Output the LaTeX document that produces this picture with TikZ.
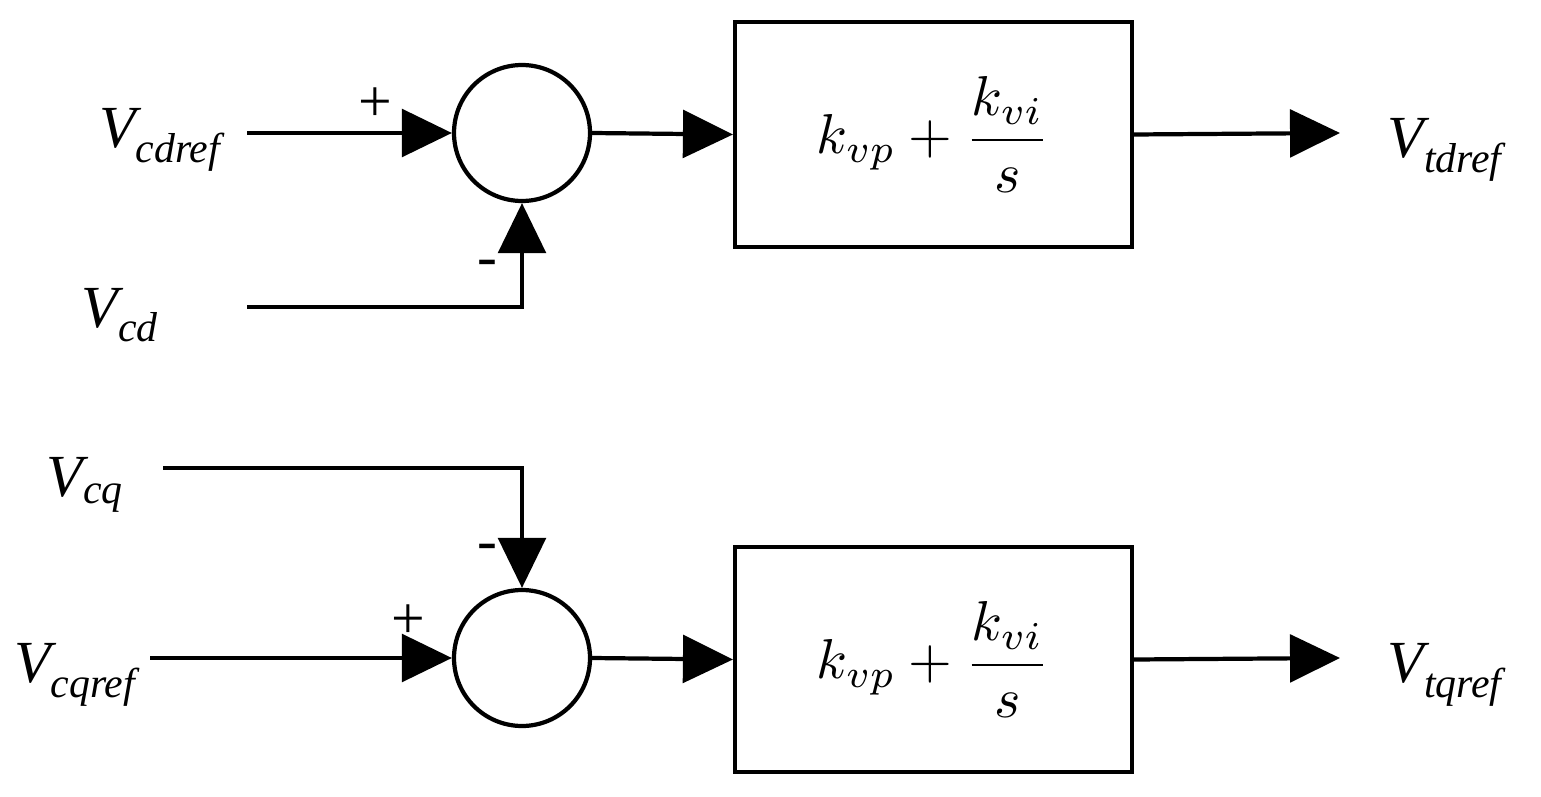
\documentclass[tikz,border=0pt]{standalone}
\usepackage{amsmath}
\usepackage{graphicx}
\usepackage{fontspec}
\setmainfont{Liberation Serif}
\usetikzlibrary{arrows.meta}
\newcommand{\pitf}{\scalebox{3.2}{$k_{vp}+\dfrac{k_{vi}}{s}$}}
\begin{document}
\begin{tikzpicture}[x=0.02cm,y=-0.02cm,
  wire/.style={line width=2.4pt,-{Triangle[length=1cm,width=0.95cm]}},
  sum/.style={circle,draw,line width=2.4pt,minimum size=2.72cm,inner sep=0pt},
  blk/.style={draw,line width=2.4pt,minimum width=7.94cm,minimum height=4.5cm},
  lab/.style={font=\fontsize{34}{40}\selectfont\itshape},
  sgn/.style={font=\fontsize{34}{40}\selectfont}]
\useasboundingbox (0,0) rectangle (1541,797);
% top
\node[sum] (s1) at (522,133) {};
\node[blk] (b1) at (933.5,134.5) {\pitf};
\node[lab] (l1) at (160,140) {V\textsubscript{cdref}};
\node[lab] (l2) at (120,315) {V\textsubscript{cd}};
\node[lab] (l3) at (1445,150) {V\textsubscript{tdref}};
\coordinate (a1) at (247,133);
\coordinate (a2) at (247,307);
\coordinate (c2) at (522,307);
\coordinate (o1) at (1340,133);
\draw[wire] (a1) -- (s1.west);
\draw[wire] (a2) -- (c2) -- (s1.south);
\draw[wire] (s1.east) -- (b1.west);
\draw[wire] (b1.east) -- (o1);
\node[sgn] (p1) at (375,105) {+};
\node[sgn] (m1) at (487,268) {-};
% bottom
\node[sum] (s2) at (522,658) {};
\node[blk] (b2) at (933.5,659.5) {\pitf};
\node[lab] (l4) at (85,485) {V\textsubscript{cq}};
\node[lab] (l5) at (75,675) {V\textsubscript{cqref}};
\node[lab] (l6) at (1445,675) {V\textsubscript{tqref}};
\coordinate (a4) at (163,468);
\coordinate (c4) at (522,468);
\coordinate (a5) at (150,658);
\coordinate (o2) at (1340,658);
\draw[wire] (a4) -- (c4) -- (s2.north);
\draw[wire] (a5) -- (s2.west);
\draw[wire] (s2.east) -- (b2.west);
\draw[wire] (b2.east) -- (o2);
\node[sgn] (p2) at (408,622) {+};
\node[sgn] (m2) at (487,552) {-};
\end{tikzpicture}
\end{document}
